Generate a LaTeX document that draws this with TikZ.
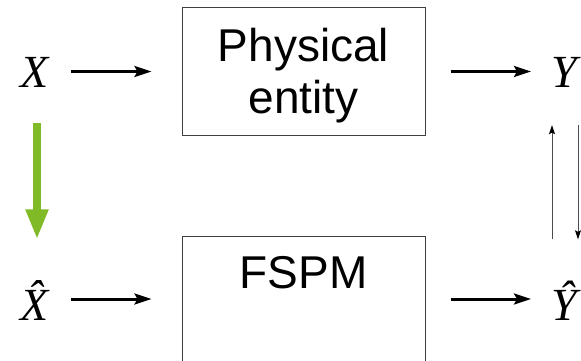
\documentclass[tikz,border=0pt]{standalone}
\usepackage{fontspec}
\setmainfont{Liberation Sans}
\newfontfamily\varfont{Liberation Serif}
\usetikzlibrary{arrows.meta}
\begin{document}
\begin{tikzpicture}[x=1pt,y=-1pt,
  var/.style={inner sep=0pt,anchor=base,font=\fontsize{46}{46}\selectfont\varfont\itshape},
  blk/.style={draw=black!75,line width=1pt,inner sep=0pt},
  lbl/.style={inner sep=0pt,anchor=base,font=\fontsize{46}{51}\selectfont},
  arr/.style={line width=3pt,-{Stealth[length=17pt,width=11pt,inset=3pt]}},
  thin/.style={draw=black!70,line width=1pt,-{Stealth[length=9pt,width=6pt,inset=1.5pt,color=black]}},
  green/.style={draw={rgb,255:red,128;green,186;blue,39},line width=8pt,
    -{Triangle[length=30pt,width=21pt]}}]
\useasboundingbox (0,0) rectangle (581,361);
% boxes
\node[blk,minimum width=243pt,minimum height=127pt] (phys) at (303.5,71.5) {};
\node[lbl] (physA) at (303.5,62) {Physical};
\node[lbl] (physB) at (303.5,113) {entity};
\node[blk,minimum width=243pt,minimum height=140pt] (fspm) at (303.5,306) {};
\node[lbl] (fspmA) at (303.5,288) {FSPM};
% variables
\node[var] (X) at (35,88) {X};
\node[var] (Xh) at (35,320) {\^{X}};
\node[var] (Y) at (564,88) {Y};
\node[var] (Yh) at (564,320) {\^{Y}};
% arrows
\draw[arr,shorten <=22pt,shorten >=30pt] (X.east |- phys.west) -- (phys.west);
\draw[arr,shorten <=25pt,shorten >=20pt] (phys.east) -- (phys.east -| Y.west);
\coordinate (xs) at (Xh.east |- 0,299);
\coordinate (ys) at (fspm.east |- 0,299);
\draw[arr,shorten <=22pt,shorten >=30pt] (xs) -- (xs -| fspm.west);
\draw[arr,shorten <=25pt,shorten >=20pt] (ys) -- (ys -| Yh.west);
\draw[green,shorten <=35pt,shorten >=41pt] ([xshift=2pt]X.south) -- ([xshift=2pt]Xh.north);
\draw[thin,shorten <=41pt,shorten >=37pt] ([xshift=-12pt]Yh.north) -- ([xshift=-12pt]Y.south);
\draw[thin,shorten <=37pt,shorten >=41pt] ([xshift=14pt]Y.south) -- ([xshift=14pt]Yh.north);
\end{tikzpicture}
\end{document}
